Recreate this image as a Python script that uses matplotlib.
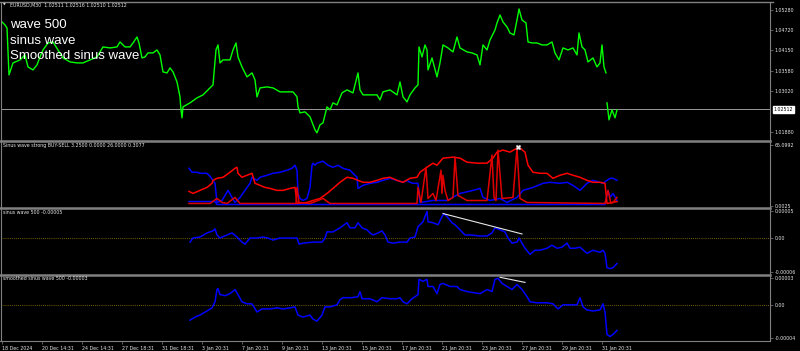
import matplotlib.pyplot as plt
import matplotlib.transforms as mtransforms
from matplotlib.lines import Line2D

W, H = 800, 351

# ---- EURUSD M30 close (bar column, price) ----
price_x = [2, 5, 7, 9, 13, 20, 25, 28, 33, 37, 40, 43, 48, 53, 58, 63, 70, 77, 83, 90,
           97, 103, 110, 117, 120, 125, 130, 133, 137, 139, 142, 145, 148, 153, 157, 160,
           163, 167, 170, 173, 177, 180, 181, 182, 183, 190, 197, 203, 210, 213, 216, 218,
           220, 223, 230, 233, 236, 238, 242, 247, 252, 255, 257, 260, 267, 273, 280, 287,
           293, 297, 298, 300, 305, 310, 315, 317, 320, 323, 327, 330, 333, 337, 342, 347,
           353, 358, 360, 363, 370, 377, 380, 383, 390, 397, 400, 403, 407, 410, 415, 418,
           419, 422, 425, 427, 428, 432, 437, 440, 443, 448, 453, 457, 460, 467, 472, 477,
           480, 483, 487, 490, 495, 497, 500, 503, 507, 510, 514, 517, 519, 522, 526, 528,
           532, 537, 542, 547, 552, 555, 559, 563, 568, 573, 577, 579, 582, 585, 588, 593,
           597, 600, 602, 604, 606]
price = [1.04946, 1.04862, 1.04778, 1.03468, 1.03803, 1.03887, 1.04026, 1.03691, 1.03608,
         1.03747, 1.03970, 1.04165, 1.04360, 1.04388, 1.04165, 1.03942, 1.03831, 1.03803,
         1.03803, 1.03887, 1.03970, 1.04249, 1.04221, 1.04249, 1.04388, 1.04249, 1.04249,
         1.04360, 1.04527, 1.04360, 1.03942, 1.03970, 1.04082, 1.04082, 1.04165, 1.04026,
         1.03552, 1.03524, 1.03664, 1.03552, 1.03273, 1.02855, 1.02493, 1.02270, 1.02577,
         1.02688, 1.02827, 1.02911, 1.03106, 1.03190, 1.04165, 1.04305, 1.03803, 1.03887,
         1.03887, 1.04165, 1.04360, 1.03970, 1.03691, 1.03413, 1.03524, 1.03329, 1.02855,
         1.03106, 1.03134, 1.03106, 1.02995, 1.02995, 1.02995, 1.02855, 1.02577, 1.02409,
         1.02437, 1.02298, 1.01936, 1.01852, 1.02075, 1.02131, 1.02577, 1.02493, 1.02688,
         1.02632, 1.02967, 1.03050, 1.02967, 1.03524, 1.03050, 1.02911, 1.02911, 1.02911,
         1.02772, 1.02995, 1.03050, 1.02911, 1.03273, 1.02855, 1.02716, 1.02911, 1.03106,
         1.03190, 1.04249, 1.03970, 1.04305, 1.04165, 1.03608, 1.03942, 1.03413, 1.03803,
         1.04305, 1.04221, 1.04110, 1.04527, 1.04221, 1.04110, 1.04082, 1.04026, 1.03747,
         1.04305, 1.04165, 1.04444, 1.04723, 1.04918, 1.05141, 1.04946, 1.04806, 1.04639,
         1.04583, 1.05001, 1.05308, 1.05001, 1.04918, 1.04388, 1.04360, 1.04360, 1.04305,
         1.04305, 1.04388, 1.04082, 1.03887, 1.04221, 1.04165, 1.04221, 1.04026, 1.04639,
         1.04249, 1.04165, 1.03831, 1.03942, 1.03691, 1.03803, 1.04305, 1.03691, 1.03524]
price2_x = [607, 609, 612, 615, 617]
price2 = [1.02688, 1.02214, 1.02493, 1.02270, 1.02493]
last_price = 1.02512
price_ticks = [1.05280, 1.04720, 1.04150, 1.03580, 1.03020, 1.01880]

# ---- Sinus wave strong BUY-SELL ----
blue_x = [189, 192, 197, 200, 207, 210, 215, 217, 222, 225, 228, 232, 235, 240, 245, 250,
          252, 257, 260, 267, 273, 280, 287, 292, 295, 297, 298, 300, 303, 307, 310, 312,
          313, 315, 317, 320, 323, 328, 333, 338, 343, 350, 353, 357, 358, 363, 370, 377,
          383, 390, 397, 403, 407, 410, 413, 418, 420, 433, 447, 460, 473, 480, 483, 490,
          500, 507, 517, 523, 533, 543, 550, 560, 567, 573, 580, 587, 593, 600, 603, 607,
          610, 613, 617]
blue = [40.1, 35.8, 35.8, 34.7, 34.7, 31.5, 23.9, 3.3, 5.4, 10.9, 16.3, 8.7, 3.3, 8.7,
        16.3, 23.9, 30.4, 27.1, 30.4, 32.6, 34.7, 35.8, 38.0, 40.1, 43.4, 38.0, 13.0, 7.6,
        5.4, 7.6, 19.5, 43.4, 45.6, 43.4, 45.6, 46.7, 47.7, 43.4, 41.2, 43.4, 40.1, 38.0,
        34.7, 30.4, 18.4, 21.7, 23.9, 25.0, 27.1, 29.3, 27.1, 25.0, 27.1, 25.0, 23.9, 23.9,
        3.3, 5.4, 5.4, 13.0, 16.3, 18.4, 8.7, 5.4, 7.6, 3.3, 8.7, 16.3, 19.5, 23.9, 25.0,
        23.9, 25.0, 21.7, 16.3, 23.9, 27.1, 25.0, 23.9, 27.1, 29.3, 29.3, 27.1]
blue_lo_x = [189, 215, 217, 420, 605, 608, 610, 613, 617]
blue_lo = [4.3, 4.3, 1.1, 1.1, 1.1, 16.3, 8.7, 13.0, 5.4]
red_x = [189, 193, 200, 207, 212, 213, 217, 223, 230, 235, 237, 238, 242, 247, 252, 255,
         260, 265, 270, 277, 283, 290, 295, 297, 307, 313, 320, 327, 333, 340, 347, 353,
         358, 363, 370, 377, 383, 390, 397, 403, 410, 417, 420, 427, 433, 437, 443, 453,
         460, 467, 477, 487, 493, 497, 503, 510, 517, 520, 525, 528, 533, 540, 547, 553,
         560, 567, 573, 580, 587, 593, 600, 605, 607, 612, 617]
red = [15.2, 13.0, 16.3, 19.5, 23.9, 27.1, 29.3, 30.4, 35.8, 40.1, 41.2, 34.7, 30.4, 32.6,
       34.7, 23.9, 21.7, 19.5, 18.4, 16.3, 16.3, 18.4, 19.5, 2.2, 3.3, 5.4, 7.6, 13.0, 18.4,
       25.0, 30.4, 29.3, 27.1, 25.0, 25.0, 27.1, 29.3, 30.4, 27.1, 25.0, 29.3, 30.4, 35.8,
       41.2, 45.6, 43.4, 51.0, 52.1, 51.0, 46.7, 45.6, 45.6, 51.0, 57.5, 59.7, 57.5, 61.8,
       61.8, 57.5, 43.4, 35.8, 34.7, 34.7, 29.3, 32.6, 34.7, 32.6, 30.4, 27.1, 25.0, 25.0,
       23.9, 2.2, 3.3, 4.3]
red_lo_x = [189, 210, 217, 222, 227, 235, 240, 296, 297, 299, 310, 318, 323, 330, 417, 418,
            421, 426, 428, 433, 436, 441, 442, 443, 445, 448, 453, 455, 458, 467, 487, 492,
            494, 496, 498, 502, 513, 517, 520, 527, 605, 608, 611, 613, 617]
red_lo = [2.2, 2.2, 7.6, 3.3, 2.2, 8.7, 2.2, 2.2, 19.5, 3.3, 2.2, 5.4, 7.6, 2.2, 2.2, 19.5,
          3.3, 41.2, 7.6, 13.0, 5.4, 38.0, 13.0, 32.6, 16.3, 5.4, 8.7, 52.1, 10.9, 5.4, 5.4,
          54.3, 8.7, 5.4, 59.7, 7.6, 8.7, 61.8, 7.6, 3.3, 2.2, 16.3, 2.2, 3.3, 8.7]
signal_x, signal = 518, 62.9

# ---- sinus wave 500 (x1e-5) ----
sin_x = [190, 193, 200, 207, 213, 215, 217, 220, 227, 232, 237, 242, 245, 250, 257, 263,
         268, 273, 280, 290, 297, 299, 303, 313, 322, 325, 327, 333, 340, 347, 350, 355,
         358, 362, 367, 370, 373, 378, 382, 385, 388, 393, 400, 407, 410, 415, 418, 423,
         427, 428, 433, 438, 442, 444, 447, 452, 455, 460, 465, 470, 480, 487, 492, 495,
         500, 505, 508, 512, 517, 519, 522, 525, 530, 535, 540, 547, 552, 557, 562, 567,
         570, 575, 580, 587, 593, 600, 603, 605, 607, 610, 613, 617]
sin_wave = [-0.76, 0, 0.19, 0.95, 1.33, 1.71, 0.57, 0, 0.57, 0.95, 0.19, -0.76, -1.14, 0,
            0, 0.19, 0, -0.38, 0, 0, 0, -1.14, -0.95, -0.76, -0.76, 0, 1.14, 1.14, 1.9,
            2.85, 1.9, 1.9, 2.85, 1.9, 1.52, 0.95, 0.57, 0.95, 1.33, 0.57, -0.76, -0.95,
            -0.76, -0.76, 0, 0.19, 2.09, 3.04, 4.94, 3.04, 2.85, 2.47, 3.99, 4.56, 3.99,
            2.85, 2.47, 1.52, 0.57, 0.57, 0.38, 0.38, 0.95, 1.9, 1.52, 1.14, 0, -0.95,
            -0.76, 0, -0.95, -1.9, -3.04, -2.28, -2.28, -1.9, -1.33, -1.9, -1.71, -0.95,
            -1.9, -1.9, -1.71, -2.85, -2.28, -2.66, -2.28, -2.85, -5.51, -5.7, -5.51, -4.75]
sin_trend_x = [443, 522]
sin_trend = [4.56, 0.76]

# ---- smoothed sinus wave 500 (x1e-5) ----
smo_x = [190, 195, 200, 207, 212, 215, 217, 218, 220, 225, 230, 235, 238, 242, 247, 252,
         257, 262, 270, 277, 283, 290, 295, 298, 303, 310, 313, 317, 322, 325, 330, 337,
         340, 343, 352, 358, 360, 362, 370, 377, 382, 390, 397, 400, 403, 407, 412, 418,
         419, 423, 427, 428, 433, 437, 440, 443, 450, 457, 460, 467, 473, 480, 487, 492,
         495, 498, 502, 507, 512, 517, 522, 527, 530, 537, 547, 553, 558, 563, 570, 577,
         580, 583, 587, 593, 600, 603, 605, 607, 610, 613, 617]
smo_wave = [-1.8, -1.44, -1.2, -0.72, -0.36, 0.36, 1.8, 1.92, 1.2, 1.08, 1.32, 1.8, 1.2,
            0.36, 0.12, 0.12, -0.84, -0.48, -0.48, -0.36, -0.48, -0.36, -0.24, -1.2, -1.44,
            -1.2, -1.68, -1.92, -1.2, -0.24, -0.24, 0, 0.6, 0.84, 0.84, 0.96, 1.56, 0.72,
            0.72, 0.36, 0.84, 0.72, 0.72, 0.84, 0.36, 0.12, 0.72, 1.2, 3.0, 2.76, 3.0, 2.16,
            2.16, 1.32, 2.4, 2.52, 2.16, 2.16, 1.8, 1.56, 1.44, 1.32, 1.8, 1.56, 3.0, 3.12,
            2.52, 2.16, 1.8, 2.4, 1.8, 0.96, 0.36, 0.24, 0.24, 0.12, -0.48, 0, 0, 0, 0.84,
            -0.24, -0.6, -0.72, -0.6, 0.12, -0.84, -3.48, -3.72, -3.48, -3.0]
smo_trend_x = [500, 525]
smo_trend = [3.24, 2.64]

date_ticks = [2, 42, 82, 122, 162, 202, 242, 282, 322, 362, 402, 442, 482, 522, 562, 602]
date_labels = ['18 Dec 2024', '20 Dec 14:31', '24 Dec 14:31', '27 Dec 18:31', '31 Dec 18:31',
               '3 Jan 20:31', '7 Jan 20:31', '9 Jan 20:31', '13 Jan 20:31', '15 Jan 20:31',
               '17 Jan 20:31', '21 Jan 20:31', '23 Jan 20:31', '27 Jan 20:31', '29 Jan 20:31',
               '31 Jan 20:31']

GRAY = '#808080'
TXT = '#e6e6e6'
FS = 3.4

fig = plt.figure(figsize=(W / 100, H / 100), dpi=100, facecolor='black')


def panel(y0, y1):
    ax = fig.add_axes([1 / W, 1 - y1 / H, 769 / W, (y1 - y0) / H])
    ax.set_facecolor('black')
    for s in ax.spines.values():
        s.set_visible(False)
    ax.set_xlim(1, 770)
    ax.set_xticks([])
    ax.yaxis.tick_right()
    ax.tick_params(axis='y', colors=GRAY, labelcolor=TXT, labelsize=FS,
                   length=2, width=0.5, pad=1.5)
    return ax


# main price panel
ax1 = panel(3, 140)
ax1.set_ylim(1.01652, 1.05475)
ax1.axhline(last_price, color='#9a9a9a', lw=0.7)
ax1.plot(price_x, price, color='#00ff00', lw=1.0)
ax1.plot(price2_x, price2, color='#00ff00', lw=1.0)
ax1.set_yticks(price_ticks)
ax1.set_yticklabels(['%.5f' % v for v in price_ticks])
tr = mtransforms.blended_transform_factory(ax1.transAxes, ax1.transData)
ax1.text(1.0045, last_price, '%.5f' % last_price, transform=tr, fontsize=FS,
         color='black', va='center', ha='left', zorder=5,
         bbox=dict(facecolor='white', edgecolor='white', pad=0.6))

# sinus wave strong
ax2 = panel(142, 207)
ax2.set_ylim(-1.6, 68.4)
ax2.plot(blue_x, blue, color='#0000ff', lw=1.1)
ax2.plot(blue_lo_x, blue_lo, color='#0000ff', lw=1.1)
ax2.plot(red_x, red, color='#ff0000', lw=1.1)
ax2.plot(red_lo_x, red_lo, color='#e00000', lw=1.1)
ax2.plot(signal_x, signal, marker='X', ms=3.5, color='white', mec='#b0b0b0', mew=0.4)
ax2.set_yticks([65.0992, 0.0025])
ax2.set_yticklabels(['65.0992', '0.0025'])

# sinus wave 500
ax3 = panel(208.5, 274)
ax3.set_ylim(-6.7e-5, 5.5e-5)
ax3.axhline(0, color='#a07a00', lw=0.6, ls=(0, (1, 1.5)))
ax3.plot(sin_x, [v * 1e-5 for v in sin_wave], color='#0000ff', lw=1.1)
ax3.plot(sin_trend_x, [v * 1e-5 for v in sin_trend], color='#e8e8e8', lw=0.8)
ax3.set_yticks([5e-5, 0, -6.3e-5])
ax3.set_yticklabels(['0.00005', '0.00', '-0.00006'])

# smoothed sinus wave 500
ax4 = panel(275.5, 341)
ax4.set_ylim(-4.25e-5, 3.45e-5)
ax4.axhline(0, color='#a07a00', lw=0.6, ls=(0, (1, 1.5)))
ax4.plot(smo_x, [v * 1e-5 for v in smo_wave], color='#0000ff', lw=1.1)
ax4.plot(smo_trend_x, [v * 1e-5 for v in smo_trend], color='#e8e8e8', lw=0.8)
ax4.set_yticks([3.1e-5, 0, -3.95e-5])
ax4.set_yticklabels(['0.00003', '0.00', '-0.00004'])
ax4.set_xticks(date_ticks)
ax4.set_xticklabels(date_labels, ha='left')
ax4.tick_params(axis='x', colors=GRAY, labelcolor=TXT, labelsize=FS,
                length=2.5, width=0.5, pad=0.8)

# frame lines (separators, right scale, bottom scale)
def fline(x0, y0, x1, y1, lw):
    fig.add_artist(Line2D([x0 / W, x1 / W], [1 - y0 / H, 1 - y1 / H],
                          color=GRAY, lw=lw))

fline(0, 1.5, 773, 1.5, 1.0)
fline(0.6, 1.5, 0.6, 341, 0.8)
fline(770, 1.5, 770, 341, 0.8)
fline(0, 341, 770, 341, 0.8)
for ys in (141, 207.6, 274.7):
    fline(0, ys, 770, ys, 1.8)

# labels
def ftext(x, y, s, **kw):
    fig.text(x / W, 1 - y / H, s, **kw)

ftext(3, 5, '\u25bc', fontsize=2.5, color=TXT, va='center')
ftext(10, 5, 'EURUSD,M30  1.02511 1.02516 1.02510 1.02512', fontsize=FS,
      color=TXT, va='center')
ftext(3, 146, 'Sinus wave strong BUY-SELL 3.2500 0.0000 26.0000 0.3077',
      fontsize=FS, color=TXT, va='center')
ftext(3, 212, 'sinus wave 500 -0.00005', fontsize=FS, color=TXT, va='center')
ftext(3, 279, 'smoothed sinus wave 500 -0.00003', fontsize=FS, color=TXT, va='center')
for yb, s in ((28, 'wave 500'), (43.5, 'sinus wave'), (59, 'Smoothed sinus wave')):
    ftext(10, yb, s, fontsize=9.5, color='white', va='baseline',
          family='Liberation Sans')

fig.savefig('out.png', dpi=100, facecolor='black')
